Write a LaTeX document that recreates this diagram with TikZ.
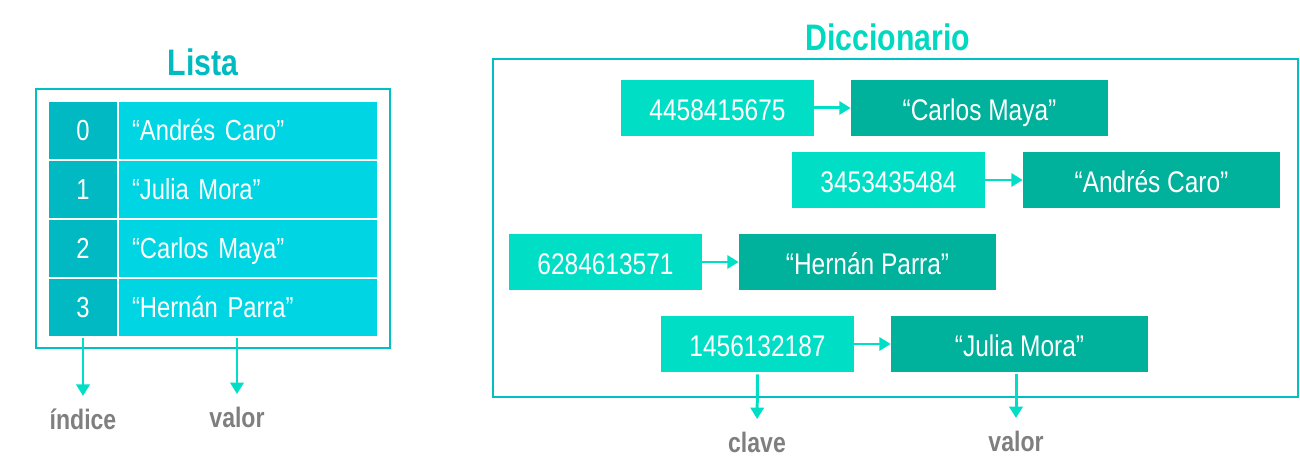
\documentclass[tikz,border=0pt]{standalone}
\usepackage{fontspec}
\setmainfont{Liberation Sans}
\newfontfamily\narrow[FakeStretch=0.82]{Liberation Sans}
\usepackage{tikz}
\usetikzlibrary{arrows.meta}
\usetikzlibrary{positioning}
\definecolor{celdaidx}{RGB}{0,185,195}
\definecolor{celdaval}{RGB}{0,214,227}
\definecolor{marco}{RGB}{0,192,198}
\definecolor{clavec}{RGB}{0,222,197}
\definecolor{valorc}{RGB}{0,177,156}
\definecolor{gris}{RGB}{127,127,127}
\definecolor{titlista}{RGB}{0,187,192}
\definecolor{titdicc}{RGB}{0,217,192}

\begin{document}
\begin{tikzpicture}[x=0.02cm,y=-0.02cm]
      \useasboundingbox (0,0) rectangle (1300,475);
      \tikzstyle{every node}=[inner sep=0pt, text=white]
      \tikzstyle{idxcell}=[fill=celdaidx, minimum width=1.36cm, minimum height=1.14cm, text height=11.6pt, text depth=0pt, font=\narrow\fontsize{16.5}{18}\selectfont]
      \tikzstyle{valcell}=[fill=celdaval, minimum height=1.14cm, text width=4.64cm, inner xsep=0.26cm, align=left, text height=11.6pt, text depth=0pt, font=\narrow\fontsize{16.5}{18}\selectfont]
      \tikzstyle{keybox}=[fill=clavec, minimum width=3.86cm, minimum height=1.12cm, text height=14pt, text depth=0pt, font=\narrow\fontsize{17}{19}\selectfont]
      \tikzstyle{valbox}=[fill=valorc, minimum width=5.14cm, minimum height=1.12cm, text height=14pt, text depth=0pt, font=\narrow\fontsize{17}{19}\selectfont]
      \tikzstyle{etiq}=[text=gris, font=\narrow\bfseries\fontsize{16}{18}\selectfont]
      \tikzstyle{flecha}=[draw=clavec, line width=1.7pt, -{Triangle[length=6.5pt,width=7.5pt]}]
      \tikzstyle{marcobox}=[draw=marco, line width=1.1pt]

      % Lista
      \node[text=titlista, font=\narrow\bfseries\fontsize{21}{23}\selectfont] (tlista) at (203,62) {Lista};
      \draw[marcobox] (36,89) rectangle (390,348);

      \node[idxcell] (i0) at (83,130.5) {0};
      \node[idxcell] (i1) at (83,189.5) {1};
      \node[idxcell] (i2) at (83,248.5) {2};
      \node[idxcell] (i3) at (83,307.5) {3};
      \node[valcell] (v0) at (248,130.5) {“Andrés Caro”};
      \node[valcell] (v1) at (248,189.5) {“Julia Mora”};
      \node[valcell] (v2) at (248,248.5) {“Carlos Maya”};
      \node[valcell] (v3) at (248,307.5) {“Hernán Parra”};

      \node[etiq] (indice) at (83,419) {índice};
      \node[etiq] (lvalor) at (237,417) {valor};

      \draw[flecha, shorten <=1.2pt, shorten >=7pt] (i3.south) -- (indice.north);
      \draw[flecha, shorten <=1.2pt, shorten >=7pt] (lvalor.north |- v3.south) -- (lvalor.north);

      % Diccionario
      \node[text=titdicc, font=\narrow\bfseries\fontsize{21}{23}\selectfont] (tdicc) at (888,37) {Diccionario};
      \draw[marcobox] (493,59) rectangle (1298,397);

      \node[keybox] (k1) at (717.5,108) {4458415675};
      \node[valbox] (d1) at (979.5,108) {“Carlos Maya”};
      \node[keybox] (k2) at (888.5,180) {3453435484};
      \node[valbox] (d2) at (1151.5,180) {“Andrés Caro”};
      \node[keybox] (k3) at (605.5,262) {6284613571};
      \node[valbox] (d3) at (867.5,262) {“Hernán Parra”};
      \node[keybox] (k4) at (757.5,344) {1456132187};
      \node[valbox] (d4) at (1019.5,344) {“Julia Mora”};

      \draw[flecha] (k1) -- (d1);
      \draw[flecha] (k2) -- (d2);
      \draw[flecha] (k3) -- (d3);
      \draw[flecha] (k4) -- (d4);

      \node[etiq] (clave) at (757,442) {clave};
      \node[etiq] (dvalor) at (1016,441) {valor};

      \draw[flecha, shorten <=1.2pt, shorten >=7pt] (k4.south) -- (clave.north);
      \draw[flecha, shorten <=1.2pt, shorten >=7pt] (dvalor.north |- d4.south) -- (dvalor.north);
\end{tikzpicture}
\end{document}
